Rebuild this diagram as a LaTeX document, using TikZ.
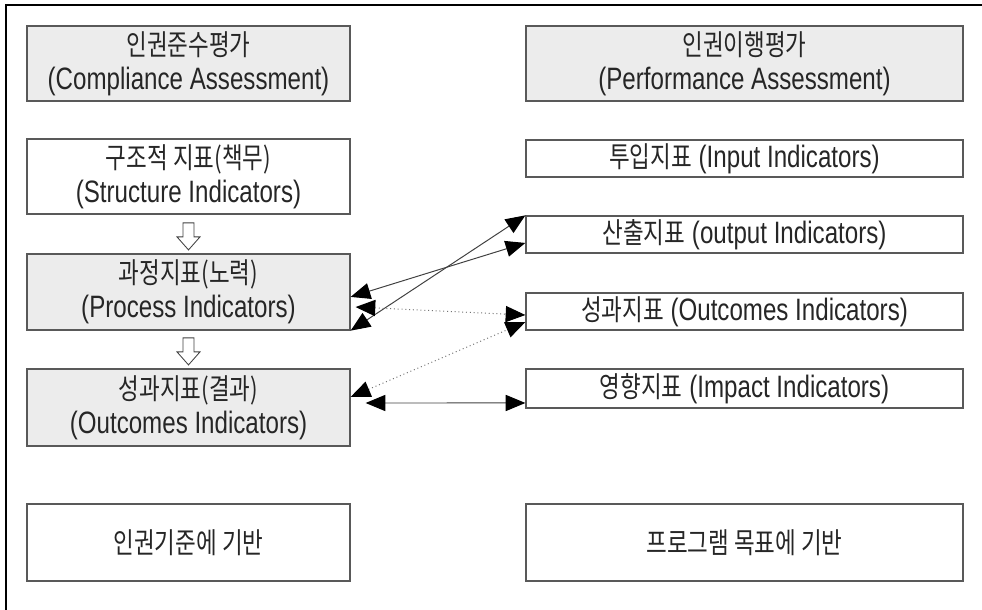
\documentclass[tikz,border=0pt]{standalone}
\usepackage{fontspec}
\setmainfont[FakeStretch=0.78]{Liberation Sans}
\newfontfamily\krfont[FakeStretch=0.78]{Noto Sans CJK KR}
\newcommand\kor[1]{{\krfont\fontsize{20.5}{24}\selectfont #1}}
\usetikzlibrary{arrows.meta,calc}

\begin{document}
\begin{tikzpicture}[
    x={(0.025cm,0cm)},
    y={(0cm,-0.025cm)},
    line cap=butt,
    line join=miter,
    frame/.style={
        line width=1.5pt,
        black
    },
    box/.style={
        draw=gray!70!black,
        line width=0.9pt,
        fill=white,
        align=center,
        inner sep=0pt,
        text=black!85,
        font=\fontsize{22}{24}\selectfont
    },
    shaded/.style={
        box,
        fill=gray!15
    },
    leftbox/.style={
        minimum width=323*0.025cm
    },
    rightbox/.style={
        minimum width=437*0.025cm
    },
    hollow/.style={
        draw=black!75,
        line width=0.6pt,
        fill=white
    },
    link/.style={
        draw=black!75,
        line width=0.7pt,
        {Triangle[length=14pt,width=11.5pt,color=black]}-{Triangle[length=14pt,width=11.5pt,color=black]}
    },
    dotlink/.style={
        link,
        draw=black!55,
        dotted
    }
]

\useasboundingbox (0,0) rectangle (982,610);

% =================================================
% Outer frame
% =================================================

\draw[frame] (6,615) -- (6,5) -- (990,5);

% =================================================
% Left column: compliance
% =================================================

\node[shaded,leftbox,minimum height=75*0.025cm] (comp)  at (188.5,63.5)
    {\kor{인권준수평가}\\(Compliance Assessment)};
\node[box,leftbox,minimum height=75*0.025cm]    (struc) at (188.5,176.5)
    {\kor{구조적 지표(책무)}\\(Structure Indicators)};
\node[shaded,leftbox,minimum height=76*0.025cm] (proc)  at (188.5,292)
    {\kor{과정지표(노력)}\\(Process Indicators)};
\node[shaded,leftbox,minimum height=77*0.025cm] (outl)  at (188.5,407.5)
    {\kor{성과지표(결과)}\\(Outcomes Indicators)};
\node[box,leftbox,minimum height=77*0.025cm]    (hrbase) at (188.5,542.5)
    {\kor{인권기준에 기반}};

% =================================================
% Right column: performance
% =================================================

\node[shaded,rightbox,minimum height=75*0.025cm] (perf)   at (744.5,63.5)
    {\kor{인권이행평가}\\(Performance Assessment)};
\node[box,rightbox,minimum height=37*0.025cm]    (input)  at (744.5,158.5)
    {\kor{투입지표} (Input Indicators)};
\node[box,rightbox,minimum height=37*0.025cm]    (output) at (744.5,234.5)
    {\kor{산출지표} (output Indicators)};
\node[box,rightbox,minimum height=37*0.025cm]    (outr)   at (744.5,311.5)
    {\kor{성과지표} (Outcomes Indicators)};
\node[box,rightbox,minimum height=39*0.025cm]    (impact) at (744.5,388.5)
    {\kor{영향지표} (Impact Indicators)};
\node[box,rightbox,minimum height=77*0.025cm]    (progbase) at (744.5,542.5)
    {\kor{프로그램 목표에 기반}};

% =================================================
% Hollow down arrows between left boxes
% =================================================

\coordinate (h1) at (188.5,236.4);
\coordinate (h2) at (188.5,351.4);

\foreach \h in {h1,h2}
    \draw[hollow] (\h) ++(-5.5,-13.5) -- ++(11,0) -- ++(0,14)
        -- ++(6,0) -- ++(-11.5,13) -- ++(-11.5,-13) -- ++(6,0) -- cycle;

% =================================================
% Links between the two columns
% =================================================

\draw[link] (proc.south east) -- (output.north west);
\draw[link] ([yshift=-3.5pt]proc.east) -- ([yshift=-6pt]output.west);
\draw[dotlink] ([xshift=3.5pt,yshift=-10.7pt]proc.east) -- ([yshift=-2.5pt]outr.west);
\draw[dotlink] ([yshift=7.5pt]outl.east) -- ([yshift=-7.5pt]outr.west);
\draw[link] ([xshift=10.7pt,yshift=3.2pt]outl.east) -- ([yshift=-10.3pt]impact.west);

\end{tikzpicture}
\end{document}
